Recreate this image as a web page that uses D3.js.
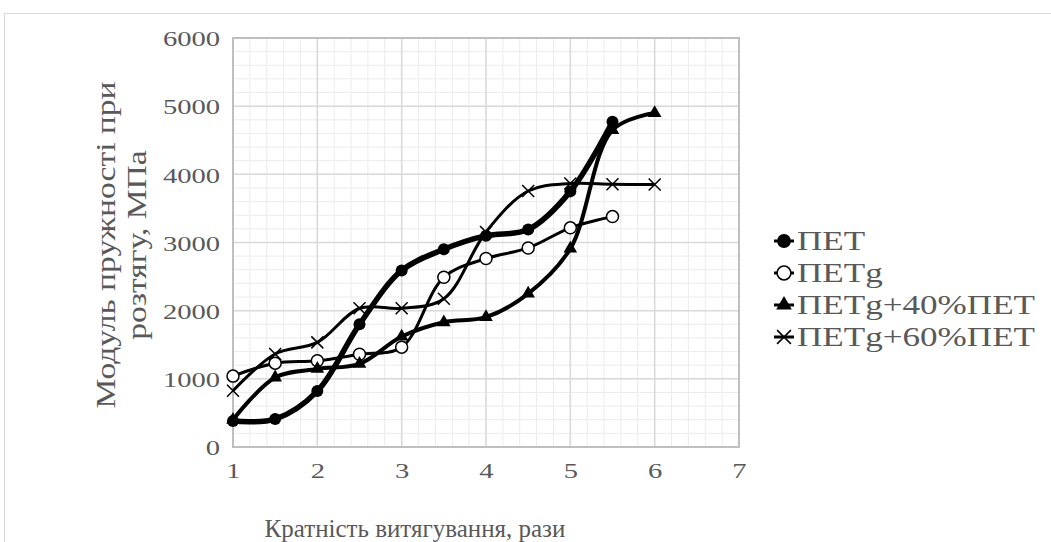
<!DOCTYPE html>
<html>
<head>
<meta charset="utf-8">
<script src="https://cdn.jsdelivr.net/npm/d3@7"></script>
<style>
  body { margin: 0; background: #fff; }
  text { font-family: "Liberation Serif", "Times New Roman", serif; }
</style>
</head>
<body>
<div id="chart"></div>
<script>
// data
var xsShort = [1, 1.5, 2, 2.5, 3, 3.5, 4, 4.5, 5, 5.5];
var xsLong = [1, 1.5, 2, 2.5, 3, 3.5, 4, 4.5, 5, 5.5, 6];
var pet = [380, 410, 820, 1800, 2590, 2900, 3100, 3190, 3750, 4770];
var petg = [1040, 1230, 1265, 1360, 1465, 2490, 2765, 2920, 3215, 3380];
var petg40 = [400, 1020, 1145, 1220, 1620, 1830, 1905, 2250, 2910, 4650, 4900];
var petg60 = [825, 1365, 1535, 2035, 2035, 2175, 3155, 3755, 3865, 3855, 3850];
var seriesNames = ["ПЕТ", "ПЕТg", "ПЕТg+40%ПЕТ", "ПЕТg+60%ПЕТ"];
var xTicks = [1, 2, 3, 4, 5, 6, 7];
var yTicks = [0, 1000, 2000, 3000, 4000, 5000, 6000];

var width = 1051, height = 542;
var svg = d3.select("#chart").append("svg")
  .attr("width", width)
  .attr("height", height);

// outer chart frame
svg.append("rect")
  .attr("x", 4.5).attr("y", 13.5)
  .attr("width", 1100).attr("height", 600)
  .attr("fill", "none")
  .attr("stroke", "#d9d9d9");

var x = d3.scaleLinear().domain([1, 7]).range([233, 739]);
var y = d3.scaleLinear().domain([0, 6000]).range([447, 38]);

// minor grid
var xMinor = d3.range(1, 7.001, 0.2);
var yMinor = d3.range(0, 6001, 200);
svg.append("g").selectAll("line").data(xMinor).enter().append("line")
  .attr("x1", d => x(d)).attr("x2", d => x(d))
  .attr("y1", y(0)).attr("y2", y(6000))
  .attr("stroke", "#ececec").attr("stroke-width", 1);
svg.append("g").selectAll("line").data(yMinor).enter().append("line")
  .attr("x1", x(1)).attr("x2", x(7))
  .attr("y1", d => y(d)).attr("y2", d => y(d))
  .attr("stroke", "#ececec").attr("stroke-width", 1);

// major grid
svg.append("g").selectAll("line").data(xTicks).enter().append("line")
  .attr("x1", d => x(d)).attr("x2", d => x(d))
  .attr("y1", y(0)).attr("y2", y(6000))
  .attr("stroke", "#d9d9d9").attr("stroke-width", 1.5);
svg.append("g").selectAll("line").data(yTicks).enter().append("line")
  .attr("x1", x(1)).attr("x2", x(7))
  .attr("y1", d => y(d)).attr("y2", d => y(d))
  .attr("stroke", "#d9d9d9").attr("stroke-width", 1.5);

svg.append("rect")
  .attr("x", x(1)).attr("y", y(6000))
  .attr("width", x(7) - x(1)).attr("height", y(0) - y(6000))
  .attr("fill", "none")
  .attr("stroke", "#bfbfbf").attr("stroke-width", 2);

// axes (labels only)
var xAxis = svg.append("g")
  .attr("transform", "translate(0," + (y(0) + 12) + ")")
  .call(d3.axisBottom(x).tickValues(xTicks).tickSize(0).tickFormat(d3.format("d")));
var yAxis = svg.append("g")
  .attr("transform", "translate(" + (x(1) - 9) + ",0)")
  .call(d3.axisLeft(y).tickValues(yTicks).tickSize(0).tickFormat(d3.format("d")));
[xAxis, yAxis].forEach(function (a) {
  a.select(".domain").remove();
  a.selectAll("text")
    .attr("fill", "#595959")
    .attr("transform", "scale(1.3,1)")
    .style("font-family", "'Liberation Serif', serif")
    .style("font-size", "22px");
});
yAxis.selectAll("text").attr("dy", "0.35em");

// axis titles
svg.append("text")
  .attr("x", 415).attr("y", 537)
  .attr("text-anchor", "middle")
  .attr("fill", "#595959")
  .style("font-size", "25px")
  .text("Кратність витягування, рази");
var yt = svg.append("text")
  .attr("transform", "translate(115,245) rotate(-90) scale(1.2,1)")
  .attr("text-anchor", "middle")
  .attr("fill", "#595959")
  .style("font-size", "28px");
yt.append("tspan").attr("x", 0).attr("y", 0).text("Модуль пружності при");
yt.append("tspan").attr("x", 0).attr("y", 31).text("розтягу, МПа");

// series
var line = d3.line()
  .x(d => x(d[0])).y(d => y(d[1]))
  .curve(d3.curveCatmullRom.alpha(0.5));

function pts(xs, vs) { return xs.map((d, i) => [d, vs[i]]); }

var series = [
  { data: pts(xsShort, pet), w: 5.5, marker: "dot" },
  { data: pts(xsShort, petg), w: 3, marker: "ring" },
  { data: pts(xsLong, petg40), w: 4, marker: "tri" },
  { data: pts(xsLong, petg60), w: 3, marker: "cross" }
];

function drawMarker(g, kind, cx, cy, s) {
  if (kind == "dot") {
    g.append("circle").attr("cx", cx).attr("cy", cy).attr("r", 6 * s).attr("fill", "#000");
  } else if (kind == "ring") {
    g.append("circle").attr("cx", cx).attr("cy", cy).attr("r", 6 * s)
      .attr("fill", "#fff").attr("stroke", "#000").attr("stroke-width", 1.5);
  } else if (kind == "tri") {
    g.append("path")
      .attr("d", d3.symbol().type(d3.symbolTriangle).size(80 * s * s)())
      .attr("transform", "translate(" + cx + "," + cy + ")")
      .attr("fill", "#000");
  } else if (kind == "cross") {
    var r = 6 * s;
    g.append("path")
      .attr("d", ["M", cx - r, cy - r, "L", cx + r, cy + r, "M", cx - r, cy + r, "L", cx + r, cy - r].join(" "))
      .attr("stroke", "#000").attr("stroke-width", 1.5).attr("fill", "none");
  }
}

series.forEach(function (s) {
  svg.append("path")
    .attr("d", line(s.data))
    .attr("fill", "none")
    .attr("stroke", "#000")
    .attr("stroke-width", s.w);
  var g = svg.append("g");
  s.data.forEach(function (d) { drawMarker(g, s.marker, x(d[0]), y(d[1]), 1); });
});

// legend
var legend = svg.append("g");
series.forEach(function (s, i) {
  var ly = 241 + i * 32;
  legend.append("line")
    .attr("x1", 774).attr("x2", 794).attr("y1", ly).attr("y2", ly)
    .attr("stroke", "#000").attr("stroke-width", Math.min(s.w, 3));
  drawMarker(legend, s.marker, 784, ly, 1.15);
  legend.append("text")
    .attr("transform", "translate(797," + ly + ") scale(1.3,1)")
    .attr("dy", "0.35em")
    .attr("fill", "#595959")
    .style("font-size", "27px")
    .text(seriesNames[i]);
});
</script>
</body>
</html>
